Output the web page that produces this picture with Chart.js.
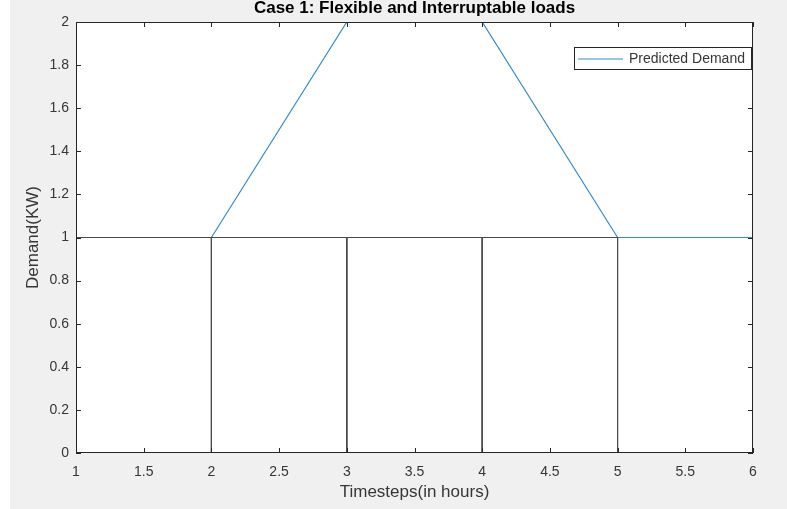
<!DOCTYPE html>
<html>
<head>
<meta charset="utf-8">
<title>Case 1: Flexible and Interruptable loads</title>
<script src="https://cdn.jsdelivr.net/npm/chart.js@4.4.1/dist/chart.umd.min.js"></script>
<style>
  html, body { margin: 0; padding: 0; background: #fff; overflow: hidden; }
  #wrap { width: 787px; height: 509px; }
</style>
</head>
<body>
<div id="wrap"><canvas id="demandChart" width="787" height="509"></canvas></div>
<script>
// data
const timesteps       = [1, 2, 3, 4, 5, 6];
const predictedDemand = [1, 1, 2, 2, 1, 1];

// flexible / interruptable load blocks (drawn as outlined rectangles)
const loadStart = [1, 2, 3, 4];
const loadEnd   = [2, 3, 4, 5];
const loadLevel = [1, 1, 1, 1];

const xTicks      = [1, 1.5, 2, 2.5, 3, 3.5, 4, 4.5, 5, 5.5, 6];
const xTickLabels = ['1', '1.5', '2', '2.5', '3', '3.5', '4', '4.5', '5', '5.5', '6'];
const yTicks      = [0, 0.2, 0.4, 0.6, 0.8, 1, 1.2, 1.4, 1.6, 1.8, 2];
const yTickLabels = ['0', '0.2', '0.4', '0.6', '0.8', '1', '1.2', '1.4', '1.6', '1.8', '2'];

const FONT = "'Liberation Sans', Arial, Helvetica, sans-serif";
const AXIS_COL = '#262626';
const LABEL_COL = '#363636';
const BLUE = '#3589c6';

const demandPts = timesteps.map((t, i) => ({ x: t, y: predictedDemand[i] }));

// rectangle outlines, separated by gaps
const loadPts = [];
loadStart.forEach((s, i) => {
  const e = loadEnd[i], h = loadLevel[i];
  loadPts.push({ x: s, y: 0 }, { x: s, y: h }, { x: e, y: h }, { x: e, y: 0 }, { x: s, y: 0 }, { x: e, y: null });
});

const matlabLook = {
  id: 'matlabLook',
  beforeDraw(chart) {
    const { ctx, chartArea: a } = chart;
    ctx.save();
    ctx.fillStyle = '#f0f0f0';
    ctx.fillRect(10, 0, chart.width - 10, chart.height);
    ctx.fillStyle = '#fff';
    ctx.fillRect(a.left, a.top, a.right - a.left, a.bottom - a.top);
    ctx.restore();
  },
  afterDatasetsDraw(chart) {
    const { ctx, chartArea: a, scales } = chart;
    const tl = 5;
    ctx.save();
    ctx.strokeStyle = AXIS_COL;
    ctx.lineWidth = 1;
    ctx.strokeRect(a.left + 0.5, a.top + 0.5, a.right - a.left - 1, a.bottom - a.top - 1);

    // inward ticks on all four sides
    ctx.beginPath();
    xTicks.forEach(v => {
      const px = Math.round(scales.x.getPixelForValue(v)) + 0.5;
      ctx.moveTo(px, a.bottom); ctx.lineTo(px, a.bottom - tl);
      ctx.moveTo(px, a.top); ctx.lineTo(px, a.top + tl);
    });
    yTicks.forEach(v => {
      const py = Math.round(scales.y.getPixelForValue(v)) + 0.5;
      ctx.moveTo(a.left, py); ctx.lineTo(a.left + tl, py);
      ctx.moveTo(a.right, py); ctx.lineTo(a.right - tl, py);
    });
    ctx.stroke();

    // legend box, top right
    const lx = 574.5, ly = 47.5, lw = 177, lh = 22;
    ctx.fillStyle = '#fff';
    ctx.fillRect(lx, ly, lw, lh);
    ctx.strokeStyle = AXIS_COL;
    ctx.strokeRect(lx, ly, lw, lh);
    ctx.strokeStyle = BLUE;
    ctx.lineWidth = 1.2;
    ctx.beginPath();
    ctx.moveTo(578, 59); ctx.lineTo(623, 59);
    ctx.stroke();
    ctx.fillStyle = LABEL_COL;
    ctx.font = '14px ' + FONT;
    ctx.textAlign = 'left';
    ctx.textBaseline = 'middle';
    ctx.fillText(chart.data.datasets[1].label, 629, 59);

    // title
    ctx.fillStyle = '#000';
    ctx.font = 'bold 17px ' + FONT;
    ctx.textAlign = 'center';
    ctx.textBaseline = 'alphabetic';
    ctx.fillText('Case 1: Flexible and Interruptable loads', (a.left + a.right) / 2, 13);
    ctx.restore();
  }
};

new Chart(document.getElementById('demandChart'), {
  type: 'scatter',
  data: {
    datasets: [
      {
        label: 'Loads',
        data: loadPts,
        showLine: true,
        spanGaps: false,
        borderColor: '#4a4a4a',
        borderWidth: 1,
        pointRadius: 0,
        order: 0
      },
      {
        label: 'Predicted Demand',
        data: demandPts,
        showLine: true,
        borderColor: BLUE,
        borderWidth: 1.2,
        pointRadius: 0,
        order: 1
      }
    ]
  },
  options: {
    responsive: false,
    animation: false,
    layout: { padding: { top: 22, right: 34, left: 0, bottom: 0 } },
    plugins: {
      legend: { display: false },
      tooltip: { enabled: false },
      title: { display: false }
    },
    scales: {
      x: {
        type: 'linear',
        min: 1, max: 6,
        afterBuildTicks: s => { s.ticks = xTicks.map(v => ({ value: v })); },
        afterFit: s => { s.height = 56; },
        grid: { display: false, drawTicks: false },
        border: { display: false },
        ticks: {
          padding: 11,
          maxRotation: 0,
          autoSkip: false,
          color: LABEL_COL,
          font: { family: FONT, size: 14 },
          callback: (v, i) => xTickLabels[i]
        },
        title: {
          display: true,
          text: 'Timesteps(in hours)',
          color: LABEL_COL,
          font: { family: FONT, size: 17 },
          padding: { top: 0, bottom: 6 }
        }
      },
      y: {
        type: 'linear',
        min: 0, max: 2,
        afterBuildTicks: s => { s.ticks = yTicks.map(v => ({ value: v })); },
        afterFit: s => { s.width = 76; },
        grid: { display: false, drawTicks: false },
        border: { display: false },
        ticks: {
          padding: 7,
          autoSkip: false,
          color: LABEL_COL,
          font: { family: FONT, size: 14 },
          callback: (v, i) => yTickLabels[i]
        },
        title: {
          display: true,
          text: 'Demand(KW)',
          color: LABEL_COL,
          font: { family: FONT, size: 17 },
          padding: { top: 23, bottom: 0 }
        }
      }
    }
  },
  plugins: [matlabLook]
});
</script>
</body>
</html>
